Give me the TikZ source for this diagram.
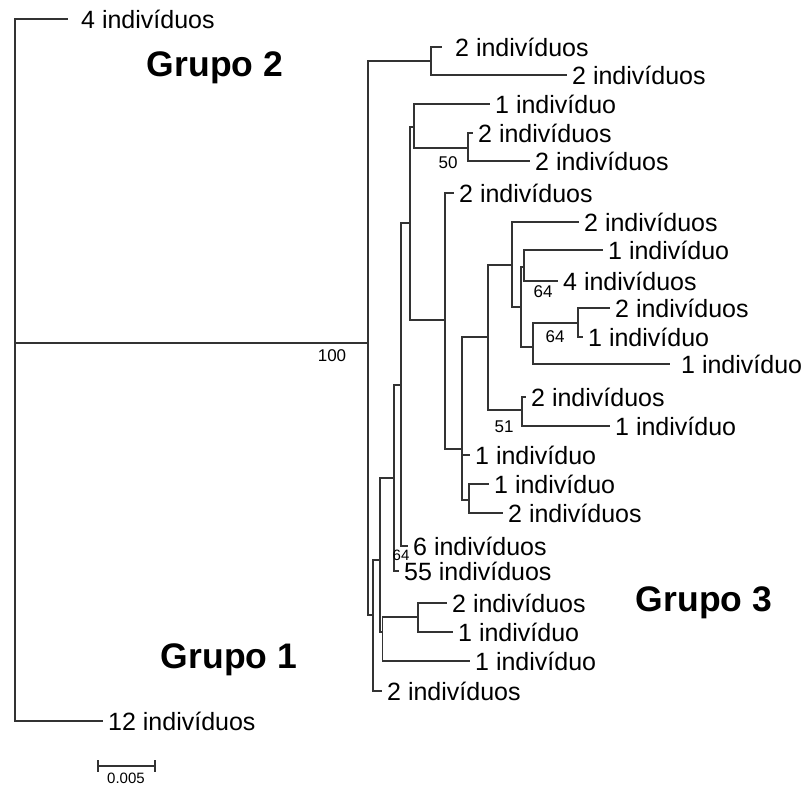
\documentclass[tikz,border=0pt]{standalone}
\usepackage{fontspec}
\setmainfont{Liberation Sans}

\tikzset{
  leaf/.style={anchor=west,inner xsep=5pt,inner ysep=0pt,font=\fontsize{25}{29}\selectfont},
  grupo/.style={font=\fontsize{35.5}{40}\selectfont\bfseries},
  boot/.style={inner sep=0pt,font=\fontsize{17}{20}\selectfont},
  ramo/.style={line width=1.1pt,black!80}
}

\begin{document}
\begin{tikzpicture}[x=1pt,y=-1pt]
\useasboundingbox (0,0) rectangle (805,787);

% internal nodes: x of the vertical, y where the parent branch joins
\coordinate (raiz) at (15,343);
\coordinate (n100) at (368,343);
\coordinate (g2) at (431,61);
\coordinate (n373) at (373,615);
\coordinate (n380) at (380,560);
\coordinate (n382) at (382.5,632);
\coordinate (n418) at (418,617);
\coordinate (n394) at (394,478);
\coordinate (n401) at (401,385);
\coordinate (n410) at (410,223);
\coordinate (n414) at (414,127);
\coordinate (n468) at (468,148);
\coordinate (n445) at (445,320);
\coordinate (n462) at (462,449);
\coordinate (n469) at (469,500);
\coordinate (n488) at (488,337);
\coordinate (n522) at (522,410);
\coordinate (n512) at (512,265);
\coordinate (n521) at (521,307);
\coordinate (n524) at (524,267);
\coordinate (n533) at (533,347);
\coordinate (n578) at (578,323);

% the leaves
\node[leaf,inner xsep=13pt] (f1) at (68,19) {4 indivíduos};
\node[leaf,inner xsep=13pt] (f2) at (442,47) {2 indivíduos};
\node[leaf] (f3) at (567,75) {2 indivíduos};
\node[leaf] (f4) at (490,104) {1 indivíduo};
\node[leaf] (f5) at (473,133) {2 indivíduos};
\node[leaf] (f6) at (530,161) {2 indivíduos};
\node[leaf] (f7) at (454,193) {2 indivíduos};
\node[leaf] (f8) at (579,222) {2 indivíduos};
\node[leaf] (f9) at (603,250) {1 indivíduo};
\node[leaf] (f10) at (558,281) {4 indivíduos};
\node[leaf] (f11) at (610,308) {2 indivíduos};
\node[leaf] (f12) at (583,337) {1 indivíduo};
\node[leaf,inner xsep=11pt] (f13) at (670,364) {1 indivíduo};
\node[leaf] (f14) at (526,397) {2 indivíduos};
\node[leaf] (f15) at (610,426) {1 indivíduo};
\node[leaf] (f16) at (470,455) {1 indivíduo};
\node[leaf] (f17) at (489,484) {1 indivíduo};
\node[leaf] (f18) at (503,513) {2 indivíduos};
\node[leaf] (f19) at (408,546) {6 indivíduos};
\node[leaf] (f20) at (399,571) {55 indivíduos};
\node[leaf] (f21) at (447,603) {2 indivíduos};
\node[leaf] (f22) at (453,632) {1 indivíduo};
\node[leaf] (f23) at (470,661) {1 indivíduo};
\node[leaf] (f24) at (382,691) {2 indivíduos};
\node[leaf] (f25) at (103,721) {12 indivíduos};

% branches
\foreach \pai/\filho in {raiz/f1,raiz/f25,raiz/n100,
    n100/g2,n100/n373,g2/f2,g2/f3,
    n373/n380,n373/f24,n380/n394,n380/n382,n382/n418,n382/f23,n418/f21,n418/f22,
    n394/n401,n394/f20,n401/n410,n401/f19,
    n410/n414,n410/n445,n414/f4,n414/n468,n468/f5,n468/f6,
    n445/f7,n445/n462,n462/n488,n462/f16,n462/n469,n469/f17,n469/f18,
    n488/n512,n488/n522,n522/f14,n522/f15,
    n512/f8,n512/n521,n521/n524,n521/n533,n524/f9,n524/f10,
    n533/n578,n533/f13,n578/f11,n578/f12}
  \draw[ramo] (\pai) |- (\filho);

% bootstrap values
\node[boot] (b100) at (332,356) {100};
\node[boot] (b50) at (448,163) {50};
\node[boot] (b64a) at (543,292) {64};
\node[boot] (b64b) at (555,337) {64};
\node[boot] (b51) at (504,427) {51};
\node[boot,font=\fontsize{15}{18}\selectfont] (b64c) at (401,555) {64};

% groups
\node[grupo] (grupo2) at (215,68) {Grupo 2};
\node[grupo] (grupo1) at (229,660) {Grupo 1};
\node[grupo] (grupo3) at (704,603) {Grupo 3};

% scale bar
\coordinate (esc1) at (98,766);
\coordinate (esc2) at (155,766);
\draw[ramo] (esc1) -- (esc2);
\draw[ramo] (esc1) ++(0,-6) -- ++(0,12);
\draw[ramo] (esc2) ++(0,-6) -- ++(0,12);
\node[boot,font=\fontsize{15}{18}\selectfont] (escala) at (126,778) {0.005};

\end{tikzpicture}
\end{document}
